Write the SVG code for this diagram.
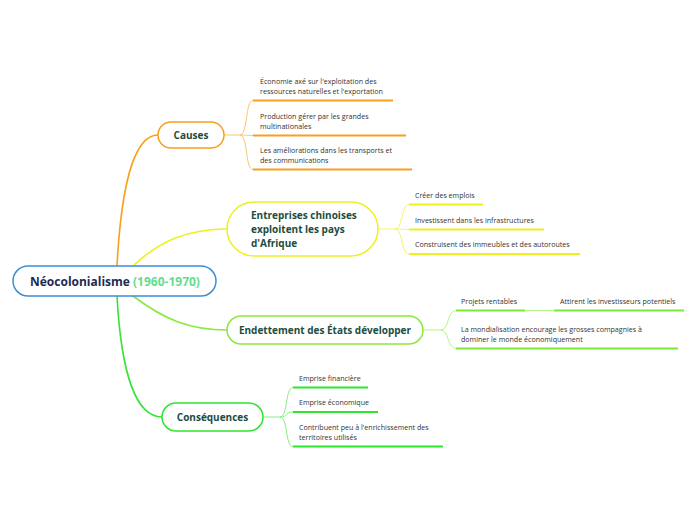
<svg xmlns="http://www.w3.org/2000/svg" width="696" height="520" viewBox="0 0 696 520">
<style>
.node{fill:#ffffff;stroke-width:1.5}
.nt{font-family:"Open Sans","Noto Sans",sans-serif;font-weight:bold;font-size:10px;fill:#1b4d3e}
.ct{font-family:"Open Sans","Noto Sans",sans-serif;font-size:7.1px;fill:#333333}
.main{fill:none;stroke-width:1.6;stroke-linecap:round}
.sub{fill:none;stroke-width:1}
.ul{fill:none;stroke-width:2}
</style>
<rect width="696" height="520" fill="#ffffff"/>
<g id="connectors">
  <path class="main" stroke="#f7a01c" d="M117,266 C121,190 133,135 158,135"/>
  <path class="main" stroke="#eef01e" d="M133,266 C160,240 190,229 227,229"/>
  <path class="main" stroke="#8ce83c" d="M133,296 C165,320 190,330 227,330"/>
  <path class="main" stroke="#36e336" d="M117,296 C121,370 135,417 162,417"/>
  <g stroke="#fbc56a">
    <path class="sub" d="M224,135 H240 C248,135 245,100.5 253,100.5"/>
    <path class="sub" d="M240,135 C248,135 245,135.5 253,135.5"/>
    <path class="sub" d="M240,135 C248,135 245,169.5 253,169.5"/>
  </g>
  <g stroke="#f4f46a">
    <path class="sub" d="M378,229 H395 C403,229 401,204.5 409,204.5"/>
    <path class="sub" d="M395,229 C403,229 401,229.5 409,229.5"/>
    <path class="sub" d="M395,229 C403,229 401,254 409,254"/>
  </g>
  <g stroke="#b8f388">
    <path class="sub" d="M423,330 H441 C449,330 447,310.5 456,310.5"/>
    <path class="sub" d="M441,330 C449,330 447,348.5 456,348.5"/>
    <path class="sub" d="M525,310.5 H554"/>
  </g>
  <g stroke="#84ef84">
    <path class="sub" d="M263,417 H280 C288,417 285,387.5 293,387.5"/>
    <path class="sub" d="M280,417 C288,417 285,412 293,412"/>
    <path class="sub" d="M280,417 C288,417 285,446.5 293,446.5"/>
  </g>
</g>
<g id="root">
  <rect class="node" x="13" y="266" width="203" height="30" rx="15" stroke="#3b8fd8"/>
  <text x="30" y="285.5" font-family="Open Sans, Noto Sans, sans-serif" font-size="12" font-weight="bold"><tspan fill="#1e2b50">Néocolonialisme</tspan><tspan fill="#5fe08c"> (1960-1970)</tspan></text>
</g>
<g id="causes">
  <rect class="node" x="158" y="122" width="66" height="26" rx="13" stroke="#f7a01c"/>
  <text class="nt" x="191" y="139" text-anchor="middle">Causes</text>
</g>
<g id="causes-1">
  <text class="ct" x="260" y="83.5">Économie axé sur l'exploitation des</text>
  <text class="ct" x="260" y="93.5">ressources naturelles et l'exportation</text>
  <path class="ul" stroke="#f7a01c" d="M253,100.5 H393"/>
</g>
<g id="causes-2">
  <text class="ct" x="260" y="118.5">Production gérer par les grandes</text>
  <text class="ct" x="260" y="128.5">multinationales</text>
  <path class="ul" stroke="#f7a01c" d="M253,135.5 H406"/>
</g>
<g id="causes-3">
  <text class="ct" x="260" y="152.5">Les améliorations dans les transports et</text>
  <text class="ct" x="260" y="162.5">des communications</text>
  <path class="ul" stroke="#f7a01c" d="M253,169.5 H412"/>
</g>
<g id="entreprises">
  <rect class="node" x="227" y="202" width="151" height="54" rx="27" stroke="#eef01e"/>
  <text class="nt" x="251" y="219">Entreprises chinoises</text>
  <text class="nt" x="251" y="233">exploitent les pays</text>
  <text class="nt" x="251" y="247">d'Afrique</text>
</g>
<g id="entreprises-1">
  <text class="ct" x="415" y="197.5">Créer des emplois</text>
  <path class="ul" stroke="#eef01e" d="M409,204.5 H483"/>
</g>
<g id="entreprises-2">
  <text class="ct" x="415" y="222.5">Investissent dans les infrastructures</text>
  <path class="ul" stroke="#eef01e" d="M409,229.5 H544"/>
</g>
<g id="entreprises-3">
  <text class="ct" x="415" y="247">Construisent des immeubles et des autoroutes</text>
  <path class="ul" stroke="#eef01e" d="M409,254 H580"/>
</g>
<g id="endettement">
  <rect class="node" x="227" y="316" width="196" height="28" rx="14" stroke="#8ce83c"/>
  <text class="nt" x="325" y="334" text-anchor="middle">Endettement des États développer</text>
</g>
<g id="endettement-1">
  <text class="ct" x="461" y="303.5">Projets rentables</text>
  <path class="ul" stroke="#7ee83a" d="M456,310.5 H525"/>
</g>
<g id="endettement-1-1">
  <text class="ct" x="560" y="303.5">Attirent les investisseurs potentiels</text>
  <path class="ul" stroke="#7ee83a" d="M554,310.5 H684"/>
</g>
<g id="endettement-2">
  <text class="ct" x="461" y="331.5">La mondialisation encourage les grosses compagnies à</text>
  <text class="ct" x="461" y="341.5">dominer le monde économiquement</text>
  <path class="ul" stroke="#7ee83a" d="M456,348.5 H678"/>
</g>
<g id="consequences">
  <rect class="node" x="162" y="403" width="101" height="28" rx="14" stroke="#2ee62e"/>
  <text class="nt" x="212.5" y="421" text-anchor="middle">Conséquences</text>
</g>
<g id="consequences-1">
  <text class="ct" x="299" y="380.5">Emprise financière</text>
  <path class="ul" stroke="#2ee62e" d="M293,387.5 H368"/>
</g>
<g id="consequences-2">
  <text class="ct" x="299" y="405">Emprise économique</text>
  <path class="ul" stroke="#2ee62e" d="M293,412 H378"/>
</g>
<g id="consequences-3">
  <text class="ct" x="299" y="429.5">Contribuent peu à l'enrichissement des</text>
  <text class="ct" x="299" y="439.5">territoires utilisés</text>
  <path class="ul" stroke="#2ee62e" d="M293,446.5 H443"/>
</g>
</svg>
